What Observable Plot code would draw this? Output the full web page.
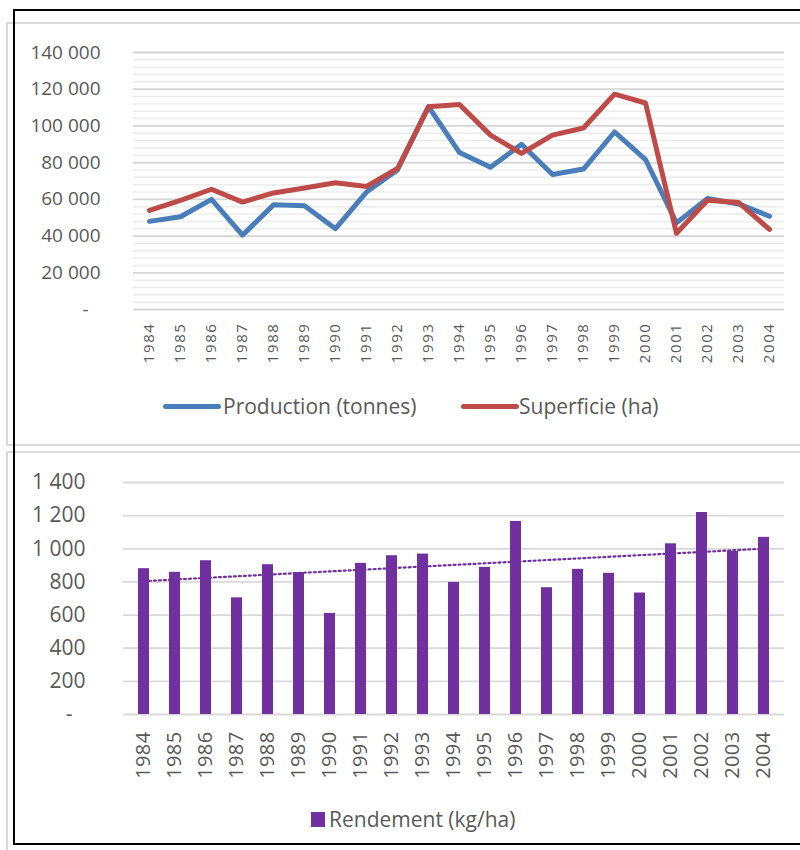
<!DOCTYPE html>
<html>
<head>
<meta charset="utf-8">
<script src="https://cdn.jsdelivr.net/npm/d3@7"></script>
<script src="https://cdn.jsdelivr.net/npm/@observablehq/plot@0.6"></script>
<style>
  body { margin: 0; background: #fff; font-family: "Open Sans", sans-serif; }
  #page { position: relative; width: 800px; height: 850px; overflow: hidden; background: #fff; }
  .abs { position: absolute; box-sizing: border-box; }
  .legtext { position: absolute; font-family: "Open Sans", sans-serif; font-size: 21px; color: #595959; line-height: 28px; white-space: nowrap; }
  #chart1 g[aria-label="x-axis tick label"] text { letter-spacing: 1.6px; }
  #chart2 g[aria-label="x-axis tick label"] text { letter-spacing: 0.4px; }
</style>
</head>
<body>
<div id="page">
  <div id="chart1" class="abs" style="left:0;top:0;"></div>
  <div id="chart2" class="abs" style="left:0;top:440px;"></div>

  <div class="abs" style="left:163px;top:403.5px;width:58px;height:5px;border-radius:2.5px;background:#4A7EBB;"></div>
  <div class="legtext" id="leg1" style="left:223px;top:392px;"></div>
  <div class="abs" style="left:461px;top:403.5px;width:58px;height:5px;border-radius:2.5px;background:#BE4B48;"></div>
  <div class="legtext" id="leg2" style="left:519px;top:392px;"></div>

  <div class="abs" style="left:311px;top:812px;width:14px;height:15px;background:#7030A0;"></div>
  <div class="legtext" id="leg3" style="left:329px;top:805px;"></div>

  <div class="abs" style="left:6px;top:22px;width:820px;height:424px;border:2px solid #d9d9d9;"></div>
  <div class="abs" style="left:6px;top:451px;width:820px;height:420px;border:2px solid #d9d9d9;"></div>
  <div class="abs" style="left:13px;top:9px;width:820px;height:836px;border:2px solid #000;"></div>
</div>
<script>
const years = ["1984","1985","1986","1987","1988","1989","1990","1991","1992","1993","1994",
               "1995","1996","1997","1998","1999","2000","2001","2002","2003","2004"];
const production = [48000, 50500, 60000, 40500, 57000, 56500, 44000, 64000, 76000, 110500, 85500,
                    77500, 90000, 73500, 76500, 96700, 81700, 47200, 60500, 57500, 50800];
const superficie = [54000, 59500, 65500, 58500, 63500, 66200, 69000, 67000, 76800, 110400, 111700,
                    95000, 85000, 95000, 98900, 117300, 112500, 41500, 59500, 58300, 43600];
const rendement = [880, 858, 928, 704, 904, 857, 610, 912, 958, 968, 797,
                   888, 1165, 765, 876, 852, 733, 1030, 1219, 984, 1069];
const seriesNames = ["Production (tonnes)", "Superficie (ha)", "Rendement (kg/ha)"];
const topTicks = [20000, 40000, 60000, 80000, 100000, 120000, 140000];
const bottomTicks = [200, 400, 600, 800, 1000, 1200, 1400];

const fmt = v => d3.format(",")(v).replace(/,/g, " ");
const grey = "#595959";

document.getElementById("leg1").textContent = seriesNames[0];
document.getElementById("leg2").textContent = seriesNames[1];
document.getElementById("leg3").textContent = seriesNames[2];

// ---- Top chart: lines ----
const chart1 = Plot.plot({
  width: 800,
  height: 370,
  marginTop: 52,
  marginBottom: 61,
  marginLeft: 133,
  marginRight: 16,
  style: { background: "transparent", overflow: "visible", fontFamily: "Open Sans, sans-serif" },
  x: { type: "point", domain: years, padding: 0.5 },
  y: { domain: [0, 140000] },
  marks: [
    Plot.gridY(d3.range(0, 140001, 4000), { stroke: "#ececec", strokeOpacity: 1, strokeWidth: 1.5 }),
    Plot.gridY([0, ...topTicks], { stroke: "#d6d6d6", strokeOpacity: 1, strokeWidth: 1.8 }),
    Plot.axisY(topTicks, { tickFormat: fmt, tickSize: 0, tickPadding: 33, fontSize: 19, fill: grey, label: null }),
    Plot.axisY([0], { tickFormat: () => "-", tickSize: 0, tickPadding: 45, fontSize: 19, fill: grey, label: null }),
    Plot.axisX({ tickRotate: -90, tickSize: 0, tickPadding: 13, fontSize: 15, fill: grey, label: null }),
    Plot.line(production, { x: (d, i) => years[i], y: d => d, stroke: "#4A7EBB", strokeWidth: 5,
                            strokeLinejoin: "round", strokeLinecap: "round" }),
    Plot.line(superficie, { x: (d, i) => years[i], y: d => d, stroke: "#BE4B48", strokeWidth: 5,
                            strokeLinejoin: "round", strokeLinecap: "round" })
  ]
});
document.getElementById("chart1").appendChild(chart1);

// ---- Bottom chart: bars + linear trend ----
const n = rendement.length;
const idx = d3.range(n);
const mx = d3.mean(idx), my = d3.mean(rendement);
const slope = d3.sum(idx, i => (i - mx) * (rendement[i] - my)) / d3.sum(idx, i => (i - mx) ** 2);
const trend = [0, n - 1].map(i => ({ year: years[i], v: my + slope * (i - mx) }));

const chart2 = Plot.plot({
  width: 800,
  height: 360,
  marginTop: 42,
  marginBottom: 86,
  marginLeft: 123,
  marginRight: 16,
  style: { background: "transparent", overflow: "visible", fontFamily: "Open Sans, sans-serif" },
  x: { type: "band", domain: years, paddingInner: 0.63, paddingOuter: 0.315 },
  y: { domain: [0, 1400] },
  marks: [
    Plot.gridY([0, ...bottomTicks], { stroke: "#d9d9d9", strokeOpacity: 1, strokeWidth: 1.8 }),
    Plot.axisY(bottomTicks, { tickFormat: fmt, tickSize: 0, tickPadding: 38, fontSize: 21, fill: grey, label: null }),
    Plot.axisY([0], { tickFormat: () => "-", tickSize: 0, tickPadding: 51, fontSize: 21, fill: grey, label: null }),
    Plot.axisX({ tickRotate: -90, tickSize: 0, tickPadding: 17, fontSize: 20, fill: grey, label: null }),
    Plot.line(trend, { x: "year", y: "v", stroke: "#7030A0", strokeWidth: 2.2, strokeDasharray: "2,3" }),
    Plot.barY(rendement, { x: (d, i) => years[i], y: d => d, fill: "#7030A0" })
  ]
});
document.getElementById("chart2").appendChild(chart2);
</script>
</body>
</html>
